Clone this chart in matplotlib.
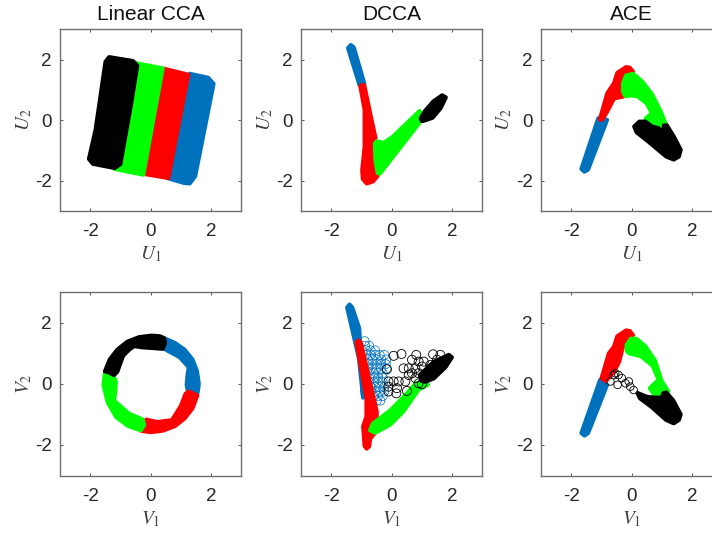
#!/usr/bin/env python3

import matplotlib
matplotlib.use('Agg')
import matplotlib.pyplot as plt

plt.rcParams['font.family'] = ['Liberation Sans', 'DejaVu Sans']
plt.rcParams['mathtext.fontset'] = 'stix'

BLUE = '#0072BD'
GREEN = '#00FF00'
RED = '#FF0000'
BLACK = '#000000'

# outlines of the coloured bands
lin_u_black = [(-1.38,2.08),(-0.59,1.95),(-0.45,1.80),(-0.65,0.56),(-1.01,-1.45),(-1.20,-1.58),
               (-1.92,-1.44),(-2.05,-1.28),(-1.83,-0.32),(-1.50,1.93)]
lin_u_green = [(-0.50,1.88),(0.39,1.71),(-0.25,-1.80),(-1.20,-1.61)]
lin_u_red = [(0.43,1.70),(1.24,1.50),(0.58,-1.91),(-0.26,-1.77)]
lin_u_blue = [(1.29,1.53),(1.90,1.40),(2.08,1.20),(1.47,-1.85),(1.29,-2.09),(1.09,-2.07),(0.54,-1.91)]

lin_v_black = [(-1.52,0.41),(-1.36,0.80),(-1.11,1.12),(-0.78,1.38),(-0.39,1.53),(0.02,1.58),(0.30,1.56),(0.44,1.50),
               (0.47,1.33),(0.40,1.15),(0.0,1.18),(-0.30,1.20),(-0.55,1.24),(-0.72,1.12),(-0.92,0.92),(-1.02,0.65),
               (-1.11,0.40),(-1.22,0.29),(-1.40,0.38)]
lin_v_blue = [(0.48,1.48),(0.80,1.34),(1.12,1.12),(1.38,0.80),(1.53,0.42),(1.59,0.0),(1.55,-0.29),(1.22,-0.20),
              (1.19,-0.03),(1.22,0.30),(1.26,0.55),(0.95,0.88),(0.48,1.13)]
lin_v_red = [(1.25,-0.25),(1.54,-0.38),(1.38,-0.80),(1.12,-1.13),(0.80,-1.38),(0.40,-1.53),(0.0,-1.58),(-0.34,-1.53),
             (-0.15,-1.17),(0.21,-1.25),(0.70,-1.19),(1.00,-0.72),(1.15,-0.33)]
lin_v_green = [(-1.52,0.36),(-1.25,0.28),(-1.16,0.08),(-1.18,-0.25),(-1.22,-0.55),(-0.72,-0.98),(-0.28,-1.16),
               (-0.22,-1.34),(-0.33,-1.52),(-0.75,-1.38),(-1.15,-1.08),(-1.43,-0.60),(-1.57,-0.03)]

dcca_u_blue = [(-1.45,2.38),(-1.36,2.48),(-1.26,2.40),(-0.91,1.20),(-1.07,1.16)]
dcca_u_red = [(-1.01,1.16),(-1.04,1.10),(-0.90,0.34),(-0.90,-0.88),(-0.98,-1.65),(-0.96,-1.94),(-0.83,-2.09),
              (-0.62,-2.02),(-0.47,-1.84),(-0.60,-1.10),(-0.60,-0.77),(-0.54,-0.60),(-0.72,0.23),(-0.91,1.14)]
dcca_u_green = [(-0.56,-0.77),(-0.50,-0.70),(-0.27,-0.75),(0.02,-0.56),(0.92,0.30),(1.02,0.05),(-0.40,-1.77),
                (-0.47,-1.74),(-0.54,-1.32)]
dcca_u_black = [(0.96,0.06),(1.10,0.30),(1.38,0.62),(1.67,0.82),(1.79,0.75),(1.62,0.40),(1.35,0.08),(1.09,-0.01),(1.0,-0.03)]

dcca_v_blue = [(-1.48,2.50),(-1.40,2.60),(-1.31,2.50),(-1.08,1.82),(-0.95,-0.45),(-1.09,0.84)]
dcca_v_red = [(-1.17,1.36),(-1.10,1.42),(-1.03,1.36),(-0.50,-0.91),(-0.50,-1.52),(-0.72,-1.80),(-0.75,-2.04),
              (-0.83,-2.12),(-0.90,-2.04),(-0.92,-1.77),(-0.95,-1.39),(-0.84,-1.07),(-0.84,-0.47)]
dcca_v_green = [(-0.62,-1.30),(-0.05,-0.87),(0.39,-0.43),(0.81,0.03),(1.10,0.06),(1.20,-0.02),(0.89,-0.18),
                (0.39,-0.89),(-0.05,-1.33),(-0.55,-1.60),(-0.72,-1.52)]
dcca_v_black = [(0.93,0.29),(1.39,0.72),(1.89,0.95),(1.99,0.87),(1.78,0.55),(1.39,0.18),(1.11,0.07),(0.98,0.10)]

# open circles
dcca_v_blue_x = [-0.9,-0.88,-0.75,-0.85,-0.7,-0.55,-0.85,-0.7,-0.55,-0.4,-0.25,-0.8,-0.65,-0.5,-0.35,-0.18,
                 -0.8,-0.65,-0.5,-0.35,-0.2,-0.8,-0.65,-0.5,-0.35,-0.18,-0.8,-0.62,-0.45,-0.3,-0.75,-0.6,-0.45,-0.3,
                 -0.75,-0.6,-0.45,-0.3,-0.7,-0.55,-0.42,-0.25,-0.7,-0.55,-0.4,-0.25,-0.6,-0.45,-0.3,-0.5,-0.38]
dcca_v_blue_y = [1.4,1.25,1.25,1.1,1.1,1.1,0.95,0.95,0.95,0.95,0.95,0.8,0.8,0.8,0.8,0.8,
                 0.65,0.65,0.65,0.65,0.65,0.5,0.5,0.5,0.5,0.5,0.35,0.35,0.35,0.35,0.2,0.2,0.2,0.2,
                 0.05,0.05,0.05,0.05,-0.1,-0.1,-0.1,-0.1,-0.25,-0.25,-0.25,-0.25,-0.4,-0.4,-0.4,-0.55,-0.55]
dcca_v_open_x = [0.06,0.32,0.81,-0.16,-0.11,0.06,0.23,0.45,0.56,0.39,0.67,0.89,1.06,0.78,0.56,0.67,0.89,
                 -0.11,0.15,0.50,-0.11,0.17,1.37,1.61,1.50,1.28,1.00,0.89,1.00,0.78]
dcca_v_open_y = [0.92,0.98,0.95,0.48,0.08,0.08,0.08,0.08,0.29,0.51,0.79,0.73,0.73,0.51,0.51,0.35,0.35,
                 -0.25,-0.31,-0.23,-0.09,-0.14,0.97,0.95,0.79,0.62,0.57,0.02,-0.01,0.19]

ace_u_blue = [(-1.66,-1.61),(-1.56,-1.70),(-1.44,-1.63),(-0.81,0.01),(-1.10,0.06)]
ace_u_red = [(-1.04,0.06),(-0.80,0.89),(-0.58,1.22),(-0.47,1.56),(-0.18,1.75),(-0.06,1.73),(0.05,1.60),(-0.15,1.54),
             (-0.35,1.22),(-0.28,0.78),(-0.58,0.72),(-0.82,0.26),(-0.97,0.02),(-1.05,0.02)]
ace_u_green = [(-0.28,1.22),(-0.18,1.47),(0.05,1.53),(0.35,1.28),(0.68,0.85),(0.95,0.32),(1.17,-0.21),(1.07,-0.42),
               (0.74,-0.14),(0.47,0.05),(0.68,0.23),(0.50,0.56),(0.20,0.79),(-0.04,0.82),(-0.20,0.79),(-0.28,0.94)]
ace_u_black = [(0.09,-0.21),(0.26,-0.05),(0.46,-0.05),(0.68,-0.21),(0.90,-0.27),(1.07,-0.44),(1.07,-0.18),(1.17,-0.17),
               (1.40,-0.54),(1.63,-0.98),(1.57,-1.20),(1.40,-1.30),(1.15,-1.20),(0.55,-0.70),(0.17,-0.40)]

ace_v_blue = [(-1.66,-1.61),(-1.56,-1.69),(-1.44,-1.61),(-0.81,-0.03),(-1.04,0.13)]
ace_v_red = [(-0.99,0.19),(-0.75,1.00),(-0.58,1.22),(-0.47,1.56),(-0.18,1.75),(-0.06,1.73),(0.05,1.60),(-0.17,1.48),
             (-0.30,1.17),(-0.41,0.73),(-0.58,0.40),(-0.85,0.09)]
ace_v_green = [(-0.16,1.28),(-0.02,1.48),(0.16,1.48),(0.45,1.24),(0.78,0.76),(1.00,0.08),(1.22,-0.25),(1.09,-0.62),
               (0.79,-0.40),(0.61,-0.14),(0.72,-0.03),(0.90,0.13),(0.70,0.60),(0.31,0.91),(-0.07,1.00),(-0.16,1.08)]
ace_v_black = [(0.20,-0.30),(0.50,-0.42),(0.74,-0.45),(1.01,-0.45),(1.05,-0.31),(1.15,-0.28),(1.38,-0.54),(1.63,-1.00),
               (1.57,-1.18),(1.40,-1.29),(1.15,-1.18),(0.66,-0.75),(0.28,-0.47)]
ace_v_open_x = [-0.70,-0.54,-0.46,-0.32,-0.20,-0.09,-0.04,0.07,-0.43,-0.59]
ace_v_open_y = [0.08,0.35,-0.03,0.19,0.02,0.08,-0.09,-0.20,0.29,0.29]

tick_vals = [-2, 0, 2]
tick_text = ['-2', '0', '2']


def band(ax, pts, color):
    xs = [p[0] for p in pts]
    ys = [p[1] for p in pts]
    ax.fill(xs, ys, facecolor=color, edgecolor=color, linewidth=3, joinstyle='round', zorder=2)


def setup(ax, xlab, ylab, title=None):
    ax.set_xlim(-3, 3)
    ax.set_ylim(-3, 3)
    ax.set_xticks(tick_vals, tick_text)
    ax.set_yticks(tick_vals, tick_text)
    ax.tick_params(direction='in', length=2, width=0.7, top=True, right=True, color='#555555',
                   labelsize=13.5, labelcolor='#262626')
    ax.tick_params(axis='x', pad=9)
    ax.tick_params(axis='y', pad=6)
    for s in ax.spines.values():
        s.set_color('#707070')
        s.set_linewidth(1.0)
    ax.set_xlabel(xlab, fontsize=14, color='#404040', labelpad=3)
    ax.set_ylabel(ylab, fontsize=14, color='#404040', labelpad=1)
    if title:
        ax.set_title(title, fontsize=15, color='#111111', pad=6.5)


fig = plt.figure(figsize=(7.12, 5.33), dpi=100)
W, H = 712.0, 533.0
lefts = [60.3, 301.3, 541.0]
width = 181.0
top_row = (533 - 211.0) / H
bot_row = (533 - 475.5) / H
h_top = 181.7 / H
h_bot = 183.2 / H

ax = fig.add_axes([lefts[0] / W, top_row, width / W, h_top])
for pts, c in [(lin_u_blue, BLUE), (lin_u_red, RED), (lin_u_green, GREEN), (lin_u_black, BLACK)]:
    band(ax, pts, c)
setup(ax, '$U_1$', '$U_2$', 'Linear CCA')

ax = fig.add_axes([lefts[1] / W, top_row, width / W, h_top])
for pts, c in [(dcca_u_blue, BLUE), (dcca_u_red, RED), (dcca_u_green, GREEN), (dcca_u_black, BLACK)]:
    band(ax, pts, c)
setup(ax, '$U_1$', '$U_2$', 'DCCA')

ax = fig.add_axes([lefts[2] / W, top_row, width / W, h_top])
for pts, c in [(ace_u_blue, BLUE), (ace_u_red, RED), (ace_u_green, GREEN), (ace_u_black, BLACK)]:
    band(ax, pts, c)
setup(ax, '$U_1$', '$U_2$', 'ACE')

ax = fig.add_axes([lefts[0] / W, bot_row, width / W, h_bot])
for pts, c in [(lin_v_blue, BLUE), (lin_v_red, RED), (lin_v_green, GREEN), (lin_v_black, BLACK)]:
    band(ax, pts, c)
setup(ax, '$V_1$', '$V_2$')

ax = fig.add_axes([lefts[1] / W, bot_row, width / W, h_bot])
band(ax, dcca_v_blue, BLUE)
ax.scatter(dcca_v_blue_x, dcca_v_blue_y, s=42, facecolors='none', edgecolors=BLUE, linewidths=0.5, zorder=2)
ax.scatter(dcca_v_open_x, dcca_v_open_y, s=42, facecolors='none', edgecolors=BLACK, linewidths=0.6, zorder=3)
for pts, c in [(dcca_v_red, RED), (dcca_v_green, GREEN), (dcca_v_black, BLACK)]:
    band(ax, pts, c)
setup(ax, '$V_1$', '$V_2$')

ax = fig.add_axes([lefts[2] / W, bot_row, width / W, h_bot])
for pts, c in [(ace_v_blue, BLUE), (ace_v_red, RED), (ace_v_green, GREEN), (ace_v_black, BLACK)]:
    band(ax, pts, c)
ax.scatter(ace_v_open_x, ace_v_open_y, s=30, facecolors='none', edgecolors=BLACK, linewidths=0.6, zorder=3)
setup(ax, '$V_1$', '$V_2$')

fig.savefig('out.png', dpi=100)
